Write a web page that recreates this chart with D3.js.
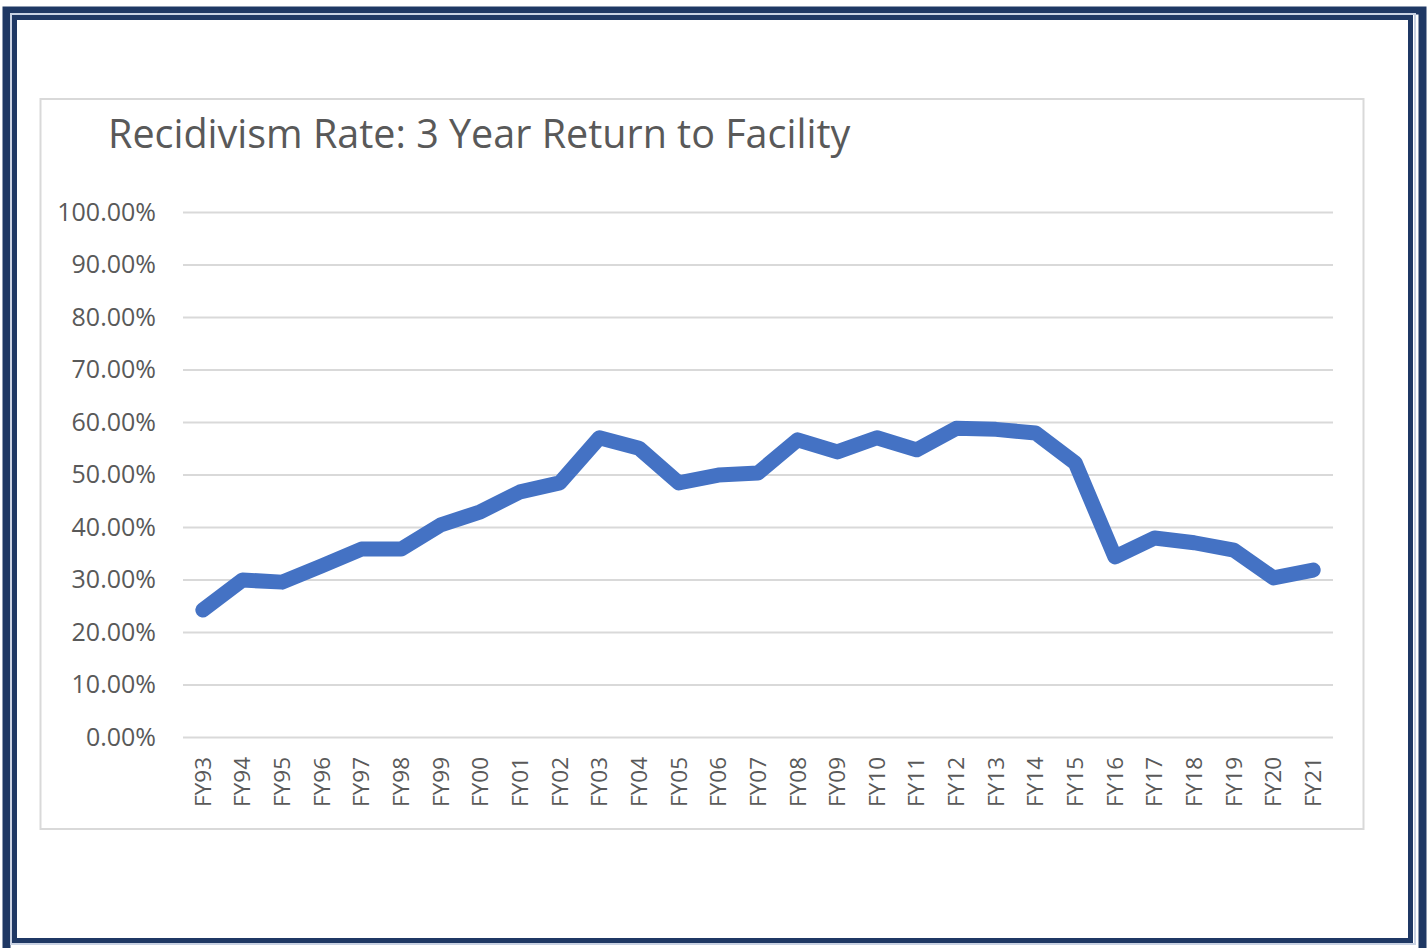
<!DOCTYPE html>
<html>
<head>
<meta charset="utf-8">
<script src="https://cdn.jsdelivr.net/npm/d3@7"></script>
<style>
  body { margin: 0; background: #fff; }
  text { font-family: "Open Sans", "Noto Sans", sans-serif; fill: #595959; }
</style>
</head>
<body>
<div id="chart"></div>
<script>
// fiscal years on the x axis
var years = ["FY93","FY94","FY95","FY96","FY97","FY98","FY99","FY00","FY01","FY02",
             "FY03","FY04","FY05","FY06","FY07","FY08","FY09","FY10","FY11","FY12",
             "FY13","FY14","FY15","FY16","FY17","FY18","FY19","FY20","FY21"];
// 3 year return rate, percent
var rates = [24.2, 29.9, 29.5, 32.6, 35.8, 35.8, 40.4, 42.9, 46.7, 48.4,
             57.0, 55.0, 48.4, 49.9, 50.3, 56.6, 54.3, 57.0, 54.7, 58.8,
             58.6, 57.9, 52.2, 34.3, 37.9, 37.0, 35.6, 30.3, 31.8];
var yTicks = [0, 10, 20, 30, 40, 50, 60, 70, 80, 90, 100];
var title = "Recidivism Rate: 3 Year Return to Facility";

var W = 1428, H = 948;
var margin = {top: 212, right: 95, bottom: 211, left: 183},
    width = W - margin.left - margin.right,
    height = H - margin.top - margin.bottom;

var svg = d3.select("#chart").append("svg")
  .attr("width", W)
  .attr("height", H);

// navy double frame
svg.append("rect").attr("x", 6.5).attr("y", 10.5).attr("width", 1416).attr("height", 946)
  .attr("fill", "none").attr("stroke", "#1f3864").attr("stroke-width", 8);
svg.append("rect").attr("x", 11).attr("y", 14).attr("width", 1404).attr("height", 930)
  .attr("fill", "none").attr("stroke", "#c9d2e3").attr("stroke-width", 2);
svg.append("rect").attr("x", 14.5).attr("y", 17.5).attr("width", 1396).attr("height", 923)
  .attr("fill", "none").attr("stroke", "#1f3864").attr("stroke-width", 5);

// chart area box
svg.append("rect").attr("x", 40.5).attr("y", 99).attr("width", 1323).attr("height", 730)
  .attr("fill", "#fff").attr("stroke", "#d9d9d9").attr("stroke-width", 2);

svg.append("text")
  .attr("x", 108).attr("y", 148)
  .style("font-size", "39.5px")
  .text(title);

var g = svg.append("g")
  .attr("transform", "translate(" + margin.left + "," + margin.top + ")");

var x = d3.scaleBand().domain(years).range([0, width]);
var y = d3.scaleLinear().domain([0, 100]).range([height, 0]);

// gridlines + labels
var yAxis = g.append("g")
  .call(d3.axisLeft(y).tickValues(yTicks).tickSize(-width).tickPadding(27)
    .tickFormat(function(d) { return d.toFixed(2) + "%"; }));
yAxis.select(".domain").remove();
yAxis.selectAll("line").attr("stroke", "#d9d9d9").attr("stroke-width", 2);
yAxis.selectAll("text").style("font-size", "25px").attr("fill", "#595959")
  .style("font-family", "'Open Sans', sans-serif");

var xAxis = g.append("g")
  .attr("transform", "translate(0," + height + ")")
  .call(d3.axisBottom(x).tickSize(0).tickPadding(0));
xAxis.select(".domain").remove();
xAxis.selectAll("text")
  .style("font-size", "22.5px").attr("fill", "#595959")
  .style("font-family", "'Open Sans', sans-serif")
  .attr("text-anchor", "end")
  .attr("dy", "0.35em")
  .attr("transform", "translate(0,20) rotate(-90)")
  .attr("x", 0).attr("y", 0);

var line = d3.line()
  .x(function(d, i) { return x(years[i]) + x.bandwidth() / 2; })
  .y(function(d) { return y(d); });

g.append("path")
  .datum(rates)
  .attr("d", line)
  .attr("fill", "none")
  .attr("stroke", "#4472c4")
  .attr("stroke-width", 15)
  .attr("stroke-linejoin", "round")
  .attr("stroke-linecap", "round");
</script>
</body>
</html>
